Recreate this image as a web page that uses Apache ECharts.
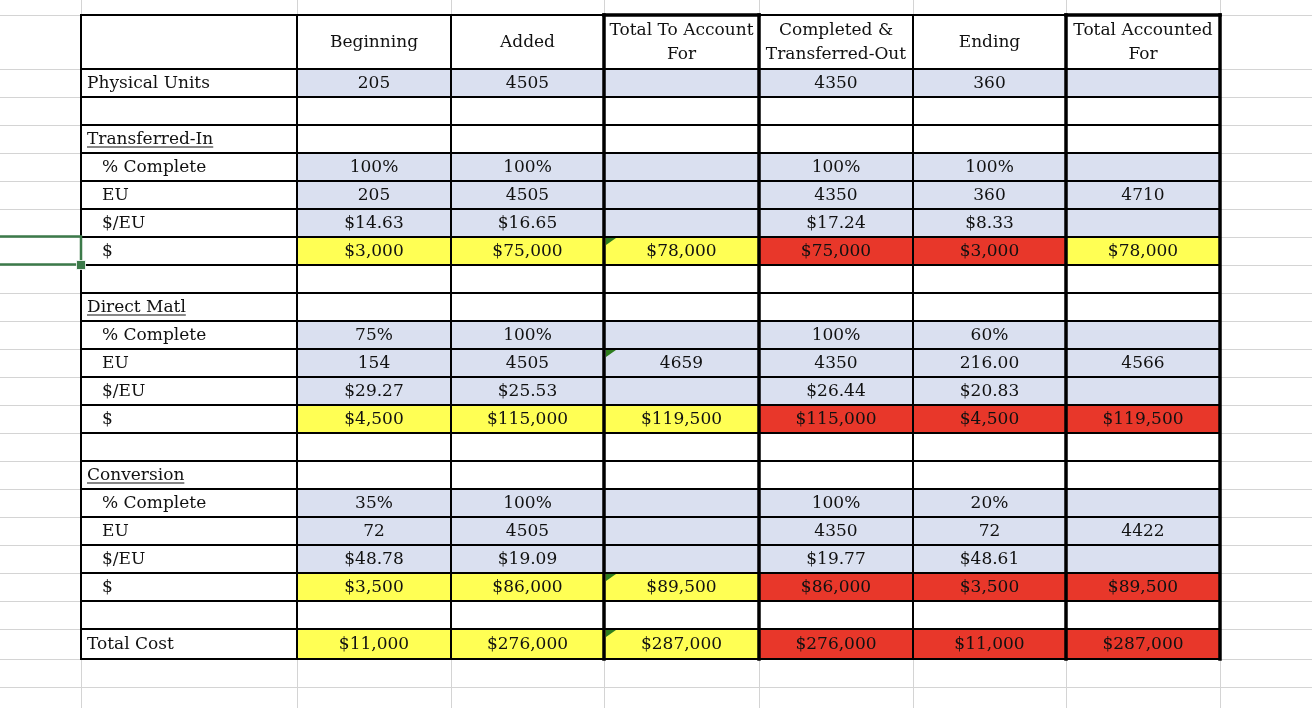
<!DOCTYPE html>
<html>
<head>
<meta charset="utf-8">
<title>Process costing worksheet</title>
<script src="https://cdn.jsdelivr.net/npm/echarts@6/dist/echarts.min.js"></script>
<style>
  html, body { margin: 0; padding: 0; background: #fff; }
  #sheet { width: 1312px; height: 708px; }
</style>
</head>
<body>
<div id="sheet"></div>
<script>
const headers = ['Beginning', 'Added', 'Total To Account\nFor', 'Completed &\nTransferred-Out', 'Ending', 'Total Accounted\nFor'];

const physicalUnits = ['205', '4505', '', '4350', '360', ''];

const tiPct   = ['100%', '100%', '', '100%', '100%', ''];
const tiEU    = ['205', '4505', '', '4350', '360', '4710'];
const tiPerEU = ['$14.63', '$16.65', '', '$17.24', '$8.33', ''];
const tiCost  = ['$3,000', '$75,000', '$78,000', '$75,000', '$3,000', '$78,000'];

const dmPct   = ['75%', '100%', '', '100%', '60%', ''];
const dmEU    = ['154', '4505', '4659', '4350', '216.00', '4566'];
const dmPerEU = ['$29.27', '$25.53', '', '$26.44', '$20.83', ''];
const dmCost  = ['$4,500', '$115,000', '$119,500', '$115,000', '$4,500', '$119,500'];

const cvPct   = ['35%', '100%', '', '100%', '20%', ''];
const cvEU    = ['72', '4505', '', '4350', '72', '4422'];
const cvPerEU = ['$48.78', '$19.09', '', '$19.77', '$48.61', ''];
const cvCost  = ['$3,500', '$86,000', '$89,500', '$86,000', '$3,500', '$89,500'];

const totalCost = ['$11,000', '$276,000', '$287,000', '$276,000', '$11,000', '$287,000'];

const rowLabels = ['', 'Physical Units', '', 'Transferred-In', '% Complete', 'EU', '$/EU', '$', '',
                   'Direct Matl', '% Complete', 'EU', '$/EU', '$', '',
                   'Conversion', '% Complete', 'EU', '$/EU', '$', '', 'Total Cost'];
const rowValues = [headers, physicalUnits, null, null, tiPct, tiEU, tiPerEU, tiCost, null,
                   null, dmPct, dmEU, dmPerEU, dmCost, null,
                   null, cvPct, cvEU, cvPerEU, cvCost, null, totalCost];

// ---- layout & styles ----
const COL_EDGES = [81, 297, 451, 604, 759, 913, 1066, 1220];
const ROW_EDGES = [15, 69];
for (let i = 1; i <= 20; i++) ROW_EDGES.push(69 + 28 * i);
ROW_EDGES.push(659);
const SHEET_ROWS = ROW_EDGES.concat([687, 715]);
const THICK_COLS = [3, 4, 6, 7];

const BLUE = '#DAE0F0', YELLOW = '#FFFF54', RED = '#E8372A';
const blueRows = [1, 4, 5, 6, 10, 11, 12, 16, 17, 18];
const costFills = {
  7:  [YELLOW, YELLOW, YELLOW, RED, RED, YELLOW],
  13: [YELLOW, YELLOW, YELLOW, RED, RED, RED],
  19: [YELLOW, YELLOW, YELLOW, RED, RED, RED],
  21: [YELLOW, YELLOW, YELLOW, RED, RED, RED]
};
const indentRows = [4, 5, 6, 7, 10, 11, 12, 13, 16, 17, 18, 19];
const underlineRows = [3, 9, 15];
const commentCells = [[3, 7], [3, 11], [3, 19], [3, 21]];

const FONT = '17px "DejaVu Serif"';
const INK = '#111111';

const measure = document.createElement('canvas').getContext('2d');
measure.font = FONT;

// one entry per table cell
const cells = [];
rowLabels.forEach((label, r) => {
  cells.push({ c: 0, r: r, text: label, align: 'left',
               pad: indentRows.includes(r) ? 21 : 6, underline: underlineRows.includes(r) });
  for (let k = 0; k < 6; k++) {
    const vals = rowValues[r];
    let fill = null;
    if (blueRows.includes(r)) fill = BLUE;
    if (costFills[r]) fill = costFills[r][k];
    cells.push({ c: k + 1, r: r, text: vals ? vals[k] : '', align: 'center', fill: fill });
  }
});

// sheet gridlines and table borders
const gridLines = [];
COL_EDGES.forEach(x => gridLines.push({ v: true, p: x }));
SHEET_ROWS.forEach(y => gridLines.push({ v: false, p: y }));

const borders = [];
ROW_EDGES.forEach(y => borders.push({ x0: COL_EDGES[0], x1: COL_EDGES[7], y0: y, y1: y, w: 2 }));
COL_EDGES.forEach((x, i) => borders.push({ x0: x, x1: x, y0: ROW_EDGES[0], y1: ROW_EDGES[ROW_EDGES.length - 1],
                                          w: THICK_COLS.includes(i) ? 3.5 : 2 }));
[3, 6].forEach(c => borders.push({ x0: COL_EDGES[c], x1: COL_EDGES[c + 1], y0: ROW_EDGES[0], y1: ROW_EDGES[0], w: 3.5 }));

function cellBox(api, c, r) {
  const a = api.coord([COL_EDGES[c], ROW_EDGES[r]]);
  const b = api.coord([COL_EDGES[c + 1], ROW_EDGES[r + 1]]);
  return { x: a[0], y: a[1], w: b[0] - a[0], h: b[1] - a[1] };
}

function renderGrid(params, api) {
  const g = gridLines[params.dataIndex];
  let a, b;
  if (g.v) { a = api.coord([g.p, 0]); b = api.coord([g.p, 708]); }
  else { a = api.coord([0, g.p]); b = api.coord([1312, g.p]); }
  const off = 0.5;
  return {
    type: 'line',
    shape: g.v ? { x1: a[0] + off, y1: a[1], x2: b[0] + off, y2: b[1] }
               : { x1: a[0], y1: a[1] + off, x2: b[0], y2: b[1] + off },
    style: { stroke: '#D4D4D4', lineWidth: 1 }
  };
}

function renderCell(params, api) {
  const cell = cells[params.dataIndex];
  const box = cellBox(api, cell.c, cell.r);
  const children = [];
  if (cell.fill) {
    children.push({ type: 'rect', shape: { x: box.x, y: box.y, width: box.w, height: box.h },
                    style: { fill: cell.fill } });
  } else {
    children.push({ type: 'rect', shape: { x: box.x, y: box.y, width: box.w, height: box.h },
                    style: { fill: '#ffffff' } });
  }
  if (cell.text) {
    const lines = cell.text.split('\n');
    const lh = 24;
    const cy = box.y + box.h / 2 + 0.5;
    const tx = cell.align === 'left' ? box.x + cell.pad : box.x + box.w / 2;
    lines.forEach((line, i) => {
      const y = cy - (lines.length - 1) * lh / 2 + i * lh;
      children.push({
        type: 'text',
        style: { text: line, x: tx, y: y, font: FONT, fill: INK,
                 align: cell.align, verticalAlign: 'middle',
                 textAlign: cell.align, textVerticalAlign: 'middle' }
      });
    });
    if (cell.underline) {
      const w = measure.measureText(cell.text).width;
      children.push({ type: 'line', shape: { x1: tx, y1: cy + 7.5, x2: tx + w, y2: cy + 7.5 },
                      style: { stroke: INK, lineWidth: 1.2 } });
    }
  }
  return { type: 'group', children: children };
}

function renderBorder(params, api) {
  const b = borders[params.dataIndex];
  const a = api.coord([b.x0, b.y0]);
  const e = api.coord([b.x1, b.y1]);
  return { type: 'line', shape: { x1: a[0], y1: a[1], x2: e[0], y2: e[1] },
           style: { stroke: '#000000', lineWidth: b.w, lineCap: 'square' } };
}

function renderComment(params, api) {
  const cc = commentCells[params.dataIndex];
  const box = cellBox(api, cc[0], cc[1]);
  const x = box.x + 2, y = box.y + 1;
  return { type: 'polygon', shape: { points: [[x, y], [x + 10, y], [x, y + 7]] },
           style: { fill: '#2E7D1E' } };
}

function renderSelection(params, api) {
  // active cell sits in column A, same row as the transferred-in "$" line
  const a = api.coord([0, ROW_EDGES[7]]);
  const b = api.coord([COL_EDGES[0], ROW_EDGES[8]]);
  return {
    type: 'group',
    children: [
      { type: 'rect', shape: { x: a[0] - 4, y: a[1] - 0.5, width: b[0] - a[0] + 4, height: b[1] - a[1] },
        style: { fill: null, stroke: '#3C7A4A', lineWidth: 2.5 } },
      { type: 'rect', shape: { x: b[0] - 4.5, y: b[1] - 4.5, width: 9, height: 9 },
        style: { fill: '#3C7A4A', stroke: '#ffffff', lineWidth: 0.8 } }
    ]
  };
}

const chart = echarts.init(document.getElementById('sheet'), null, { renderer: 'canvas' });
chart.setOption({
  animation: false,
  backgroundColor: '#ffffff',
  grid: { left: 0, right: 0, top: 0, bottom: 0 },
  xAxis: { type: 'value', min: 0, max: 1312, show: false },
  yAxis: { type: 'value', min: 0, max: 708, inverse: true, show: false },
  series: [
    { type: 'custom', z: 1, silent: true, renderItem: renderGrid,
      data: gridLines.map(g => [g.v ? g.p : 0, g.v ? 0 : g.p]) },
    { type: 'custom', z: 2, silent: true, renderItem: renderCell,
      data: cells.map(c => [c.c, c.r]) },
    { type: 'custom', z: 3, silent: true, renderItem: renderBorder,
      data: borders.map(b => [b.x0, b.y0]) },
    { type: 'custom', z: 4, silent: true, renderItem: renderComment,
      data: commentCells },
    { type: 'custom', z: 5, silent: true, renderItem: renderSelection,
      data: [[0, 7]] }
  ]
});
</script>
</body>
</html>
